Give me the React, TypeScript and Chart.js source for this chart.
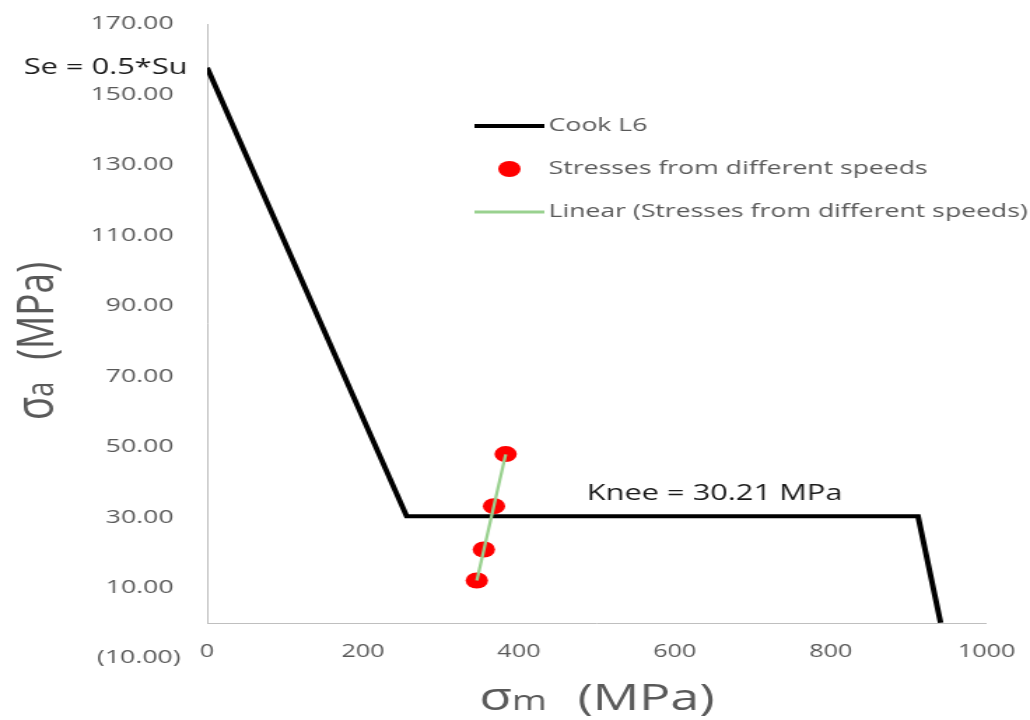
import React, { useEffect, useRef } from "react";
import { Chart, registerables } from "chart.js";

Chart.register(...registerables);

// ---------------- data ----------------
const cookX = [0, 256, 912, 941];
const cookY = [157.6, 30.21, 30.21, 0];
const stressX = [346, 355, 368, 383];
const stressY = [12.0, 20.8, 33.1, 47.9];
const xTickValues = [0, 200, 400, 600, 800, 1000];
const yTickValues = [-10, 10, 30, 50, 70, 90, 110, 130, 150, 170];
const seLabel = "Se = 0.5*Su";
const kneeLabel = "Knee = 30.21 MPa";
const kneeLabelAt = [651, 36.7];
const legendNames = [
  "Cook L6",
  "Stresses from different speeds",
  "Linear (Stresses from different speeds)",
];

// ---------------- styling ----------------
const W = 736;
const H = 720;
const STRETCH = 1030 / W;
const FONT = "'Open Sans', 'DejaVu Sans', sans-serif";
const GRAY = "#595959";
const DARK = "#1a1a1a";
const GREEN = "#99d18f";
const RED = "#ff0000";
const AXIS = "#bfbfbf";

function linearTrend(xs: number[], ys: number[]) {
  const n = xs.length;
  const mx = xs.reduce((a, b) => a + b, 0) / n;
  const my = ys.reduce((a, b) => a + b, 0) / n;
  let sxy = 0;
  let sxx = 0;
  for (let i = 0; i < n; i++) {
    sxy += (xs[i] - mx) * (ys[i] - my);
    sxx += (xs[i] - mx) * (xs[i] - mx);
  }
  const m = sxy / sxx;
  const b = my - m * mx;
  const x0 = Math.min(...xs);
  const x1 = Math.max(...xs);
  return [
    { x: x0, y: m * x0 + b },
    { x: x1, y: m * x1 + b },
  ];
}

type Part = { t: string; size: number; gapAfter?: number };

function drawParts(ctx: CanvasRenderingContext2D, parts: Part[], centerX: number, baseline: number) {
  let total = 0;
  const widths: number[] = [];
  parts.forEach((p) => {
    ctx.font = `${p.size}px ${FONT}`;
    const w = ctx.measureText(p.t).width;
    widths.push(w);
    total += w + (p.gapAfter || 0);
  });
  let x = centerX - total / 2;
  ctx.textAlign = "left";
  ctx.textBaseline = "alphabetic";
  parts.forEach((p, i) => {
    ctx.font = `${p.size}px ${FONT}`;
    ctx.fillText(p.t, x, baseline);
    x += widths[i] + (p.gapAfter || 0);
  });
}

const overlayPlugin = {
  id: "overlay",
  beforeDatasetsDraw(chart: any) {
    const { ctx, scales } = chart;
    const xs = scales.x;
    const ys = scales.y;
    ctx.save();
    ctx.strokeStyle = AXIS;
    ctx.lineWidth = 1;
    const y0 = Math.round(ys.getPixelForValue(0)) + 0.5;
    ctx.beginPath();
    ctx.moveTo(xs.getPixelForValue(0), y0);
    ctx.lineTo(xs.getPixelForValue(1000), y0);
    ctx.stroke();
    const x0 = Math.round(xs.getPixelForValue(0)) + 0.5;
    ctx.beginPath();
    ctx.moveTo(x0, ys.getPixelForValue(170));
    ctx.lineTo(x0, y0);
    ctx.stroke();
    ctx.restore();
  },
  afterDraw(chart: any) {
    const { ctx, scales, chartArea } = chart;
    const xs = scales.x;
    const ys = scales.y;
    ctx.save();

    // x tick labels (Excel places them at the bottom of the plot area)
    ctx.fillStyle = GRAY;
    ctx.font = `18px ${FONT}`;
    ctx.textAlign = "center";
    ctx.textBaseline = "middle";
    xTickValues.forEach((v) => {
      ctx.fillText(String(v), xs.getPixelForValue(v), chartArea.bottom - 6);
    });

    // data labels
    ctx.fillStyle = DARK;
    ctx.font = `22px ${FONT}`;
    ctx.textAlign = "right";
    ctx.textBaseline = "middle";
    ctx.fillText(seLabel, xs.getPixelForValue(cookX[0]) - 14, ys.getPixelForValue(cookY[0]));
    ctx.textAlign = "center";
    ctx.fillText(kneeLabel, xs.getPixelForValue(kneeLabelAt[0]), ys.getPixelForValue(kneeLabelAt[1]));

    // legend
    const lx0 = 339;
    const lx1 = 389;
    const tx = 392;
    const rows = [126, 169, 212];
    ctx.lineCap = "butt";
    ctx.strokeStyle = "#000000";
    ctx.lineWidth = 4;
    ctx.beginPath();
    ctx.moveTo(lx0, rows[0]);
    ctx.lineTo(lx1, rows[0]);
    ctx.stroke();
    ctx.fillStyle = RED;
    ctx.beginPath();
    ctx.arc((lx0 + lx1) / 2, rows[1], 8, 0, Math.PI * 2);
    ctx.fill();
    ctx.strokeStyle = GREEN;
    ctx.lineWidth = 3;
    ctx.beginPath();
    ctx.moveTo(lx0, rows[2]);
    ctx.lineTo(lx1, rows[2]);
    ctx.stroke();
    ctx.fillStyle = GRAY;
    ctx.font = `19px ${FONT}`;
    ctx.textAlign = "left";
    ctx.textBaseline = "middle";
    legendNames.forEach((n, i) => ctx.fillText(n, tx, rows[i]));

    // axis titles
    ctx.fillStyle = GRAY;
    const cx = (chartArea.left + chartArea.right) / 2;
    drawParts(
      ctx,
      [
        { t: "σ", size: 38 },
        { t: "m", size: 27, gapAfter: 22 },
        { t: "(MPa)", size: 37 },
      ],
      cx,
      710
    );
    const cy = (chartArea.top + chartArea.bottom) / 2;
    ctx.save();
    ctx.translate(38, cy);
    ctx.rotate(-Math.PI / 2);
    drawParts(
      ctx,
      [
        { t: "σ", size: 38 },
        { t: "a", size: 27, gapAfter: 22 },
        { t: "(MPa)", size: 37 },
      ],
      0,
      0
    );
    ctx.restore();

    ctx.restore();
  },
};

export default function App() {
  const ref = useRef<HTMLCanvasElement | null>(null);

  useEffect(() => {
    if (!ref.current) return;
    const chart = new Chart(ref.current, {
      type: "scatter",
      data: {
        datasets: [
          {
            label: legendNames[2],
            data: linearTrend(stressX, stressY),
            showLine: true,
            borderColor: GREEN,
            backgroundColor: GREEN,
            borderWidth: 2.3,
            pointRadius: 0,
            order: 1,
          },
          {
            label: legendNames[1],
            data: stressX.map((x, i) => ({ x, y: stressY[i] })),
            showLine: false,
            backgroundColor: RED,
            borderColor: RED,
            borderWidth: 0,
            pointRadius: 8,
            order: 2,
          },
          {
            label: legendNames[0],
            data: cookX.map((x, i) => ({ x, y: cookY[i] })),
            showLine: true,
            borderColor: "#000000",
            backgroundColor: "#000000",
            borderWidth: 4,
            borderJoinStyle: "miter",
            pointRadius: 0,
            order: 3,
          },
        ] as any,
      },
      options: {
        animation: false,
        responsive: false,
        devicePixelRatio: 1,
        layout: { padding: { top: 24, right: 31, bottom: 0, left: 0 } },
        plugins: {
          legend: { display: false },
          tooltip: { enabled: false },
        },
        scales: {
          x: {
            type: "linear",
            min: 0,
            max: 1000,
            afterBuildTicks: (s: any) => {
              s.ticks = xTickValues.map((v) => ({ value: v }));
            },
            afterFit: (s: any) => {
              s.height = 62;
              s.paddingLeft = 0;
              s.paddingRight = 0;
            },
            grid: { display: false, drawTicks: false },
            border: { display: false },
            ticks: { display: false },
          },
          y: {
            type: "linear",
            min: -10,
            max: 170,
            afterBuildTicks: (s: any) => {
              s.ticks = yTickValues.map((v) => ({ value: v }));
            },
            afterFit: (s: any) => {
              s.width = 148;
              s.paddingTop = 0;
              s.paddingBottom = 0;
            },
            grid: { display: false, drawTicks: false },
            border: { display: false },
            ticks: {
              font: { family: FONT, size: 19 },
              color: GRAY,
              padding: 19,
              autoSkip: false,
              callback: (v: any) => {
                const n = Number(v);
                return n < 0 ? `(${Math.abs(n).toFixed(2)})` : `${n.toFixed(2)} `;
              },
            },
          },
        },
      } as any,
      plugins: [overlayPlugin],
    });
    return () => chart.destroy();
  }, []);

  return (
    <div
      style={{
        position: "absolute",
        left: 0,
        top: 0,
        width: 1030,
        height: 720,
        overflow: "hidden",
        background: "#ffffff",
      }}
    >
      <div style={{ width: W, height: H, transform: `scaleX(${STRETCH})`, transformOrigin: "0 0" }}>
        <canvas ref={ref} width={W} height={H} style={{ display: "block", width: W, height: H }} />
      </div>
    </div>
  );
}
